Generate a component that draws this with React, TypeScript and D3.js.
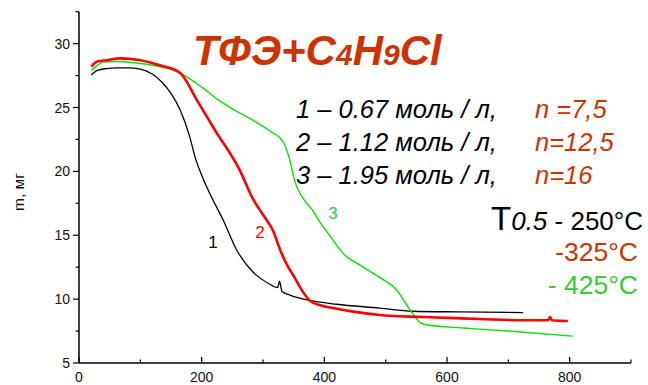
import React from "react";
import * as d3 from "d3";

const t1 = [20, 30, 45, 60, 80, 100, 120, 135, 150, 165, 180, 190, 200, 210, 218, 235, 257, 284, 310, 324, 327, 331, 345, 376, 420, 490, 544, 620, 724];
const m1 = [27.55, 27.9, 28.05, 28.1, 28.1, 28.0, 27.6, 27.0, 26.1, 24.8, 22.8, 21.0, 19.7, 18.6, 17.8, 16.2, 13.85, 12.1, 11.2, 10.9, 11.4, 10.6, 10.3, 9.9, 9.6, 9.3, 9.05, 9.0, 8.95];

const t2 = [20, 30, 45, 67, 100, 132, 165, 192, 222, 262, 284, 300, 317, 328, 340, 349, 362, 376, 395, 414, 450, 490, 560, 653, 720, 765, 768, 771, 797];
const m2 = [28.2, 28.6, 28.7, 28.85, 28.7, 28.3, 27.7, 25.6, 23.2, 20.1, 17.8, 16.6, 15.3, 13.85, 12.6, 11.9, 10.8, 9.9, 9.5, 9.3, 9.0, 8.76, 8.6, 8.45, 8.35, 8.35, 8.6, 8.35, 8.29];

const t3 = [20, 30, 39, 60, 90, 121, 165, 200, 224, 250, 280, 310, 333, 343, 352, 365, 380, 393, 410, 430, 460, 490, 518, 540, 556, 570, 626, 700, 805];
const m3 = [27.9, 28.3, 28.55, 28.6, 28.5, 28.3, 27.7, 26.6, 25.7, 24.9, 24.1, 23.2, 22.3, 21.0, 19.2, 17.9, 17.0, 16.0, 14.9, 13.6, 12.6, 11.7, 10.7, 9.15, 8.16, 7.95, 7.74, 7.5, 7.1];

const xTicks = [0, 200, 400, 600, 800];
const xMinor = [100, 300, 500, 700, 900];
const yTicks = [5, 10, 15, 20, 25, 30];
const yMinor = [7.5, 12.5, 17.5, 22.5, 27.5, 32.5];

const legendNums = ["1", "2", "3"];
const legendConc = ["0.67", "1.12", "1.95"];
const legendN = ["n =7,5", "n=12,5", "n=16"];

const ORANGE = "#cc3300";
const RED = "#ff0000";
const GREEN = "#00e600";
const GREEN_TXT = "#33cc33";

export default function App() {
  const x = d3.scaleLinear().domain([0, 900]).range([79, 631]);
  const y = d3.scaleLinear().domain([5, 32.5]).range([363, 11.7]);
  const line = d3
    .line<[number, number]>()
    .x((d) => x(d[0]))
    .y((d) => y(d[1]))
    .curve(d3.curveMonotoneX);
  const series = [
    { t: t1, m: m1, color: "#000", w: 1.3 },
    { t: t3, m: m3, color: GREEN, w: 1.4 },
    { t: t2, m: m2, color: RED, w: 2.6 },
  ];
  const font = "'Liberation Sans', Arial, sans-serif";
  const axisY = y(5);
  const axisX = x(0);
  return (
    <svg
      width={648}
      height={385}
      style={{ position: "fixed", left: 0, top: 0, background: "#fff" }}
      fontFamily={font}
    >
      <rect width={648} height={385} fill="#fff" />
      {series.map((s, i) => (
        <path
          key={i}
          d={line(s.t.map((t, j) => [t, s.m[j]]) as [number, number][]) || ""}
          fill="none"
          stroke={s.color}
          strokeWidth={s.w}
          strokeLinejoin="round"
        />
      ))}
      <line x1={axisX} x2={x(900)} y1={axisY} y2={axisY} stroke="#000" strokeWidth={1.5} />
      <line x1={axisX} x2={axisX} y1={y(32.5)} y2={axisY} stroke="#000" strokeWidth={1.5} />
      {xTicks.map((t) => (
        <g key={"xt" + t}>
          <line x1={x(t)} x2={x(t)} y1={axisY} y2={axisY - 6} stroke="#000" strokeWidth={1.2} />
          <text x={x(t)} y={382} textAnchor="middle" fontSize={14} fill="#111">
            {t}
          </text>
        </g>
      ))}
      {xMinor.map((t) => (
        <line key={"xm" + t} x1={x(t)} x2={x(t)} y1={axisY} y2={axisY - 3.5} stroke="#000" strokeWidth={1.2} />
      ))}
      {yTicks.map((t) => (
        <g key={"yt" + t}>
          <line x1={axisX} x2={axisX - 6} y1={y(t)} y2={y(t)} stroke="#000" strokeWidth={1.2} />
          <text x={70} y={y(t) + 5} textAnchor="end" fontSize={14} fill="#111">
            {t}
          </text>
        </g>
      ))}
      {yMinor.map((t) => (
        <line key={"ym" + t} x1={axisX} x2={axisX - 3.5} y1={y(t)} y2={y(t)} stroke="#000" strokeWidth={1.2} />
      ))}
      <text
        transform="translate(24,192) rotate(-90)"
        textAnchor="middle"
        fontSize={15.5}
        fill="#111"
      >
        m, мг
      </text>
      <text x={193} y={65} fontSize={42} fontWeight="bold" fontStyle="italic" fill={ORANGE}>
        ТФЭ+C<tspan fontSize={30}>4</tspan>H<tspan fontSize={30}>9</tspan>Cl
      </text>
      {legendNums.map((n, i) => (
        <g key={"lg" + i}>
          <text x={296} y={118 + i * 33} fontSize={25.5} fontStyle="italic" fill="#000">
            {n} – {legendConc[i]} моль / л,
          </text>
          <text x={535} y={118 + i * 33} fontSize={25.5} fontStyle="italic" fill={ORANGE}>
            {legendN[i]}
          </text>
        </g>
      ))}
      <text x={213} y={248} textAnchor="middle" fontSize={17} fill="#000">1</text>
      <text x={260} y={238} textAnchor="middle" fontSize={17} fill={RED}>2</text>
      <text x={333} y={219} textAnchor="middle" fontSize={17} fill={GREEN_TXT}>3</text>
      <text x={643} y={230} textAnchor="end" fontSize={26} fill="#000">
        <tspan fontSize={33}>T</tspan>
        <tspan fontStyle="italic">0.5</tspan>
        <tspan> - 250°C</tspan>
      </text>
      <text x={638} y={261} textAnchor="end" fontSize={26.5} fill={ORANGE}>
        -325°C
      </text>
      <text x={638} y={294} textAnchor="end" fontSize={26.5} fill={GREEN_TXT}>
        - 425°C
      </text>
    </svg>
  );
}
